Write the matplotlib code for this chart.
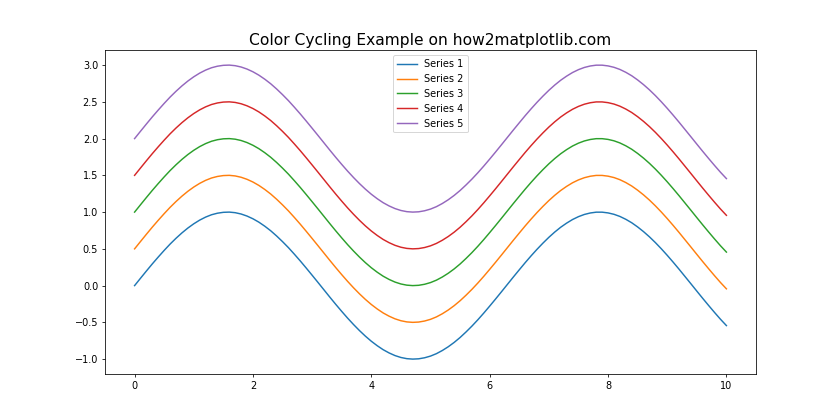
import numpy as np
import matplotlib.pyplot as plt

# x grid (0 to 10, step 0.1)
x = np.linspace(0, 10, 101)

# base wave (Series 1)
base = [0.000, 0.100, 0.199, 0.296, 0.389, 0.479, 0.565, 0.644, 0.717, 0.783,
        0.841, 0.891, 0.932, 0.964, 0.985, 0.997, 1.000, 0.992, 0.974, 0.946,
        0.909, 0.863, 0.808, 0.746, 0.675, 0.598, 0.516, 0.427, 0.335, 0.239,
        0.141, 0.042, -0.058, -0.158, -0.256, -0.351, -0.443, -0.530, -0.612, -0.688,
        -0.757, -0.818, -0.872, -0.916, -0.952, -0.978, -0.994, -1.000, -0.996, -0.982,
        -0.959, -0.926, -0.883, -0.832, -0.773, -0.706, -0.631, -0.551, -0.465, -0.374,
        -0.279, -0.182, -0.083, 0.017, 0.117, 0.215, 0.312, 0.405, 0.494, 0.578,
        0.657, 0.729, 0.794, 0.850, 0.899, 0.938, 0.968, 0.988, 0.999, 0.999,
        0.989, 0.970, 0.941, 0.902, 0.855, 0.798, 0.734, 0.663, 0.585, 0.501,
        0.412, 0.319, 0.223, 0.124, 0.025, -0.075, -0.174, -0.271, -0.366, -0.458,
        -0.544]

# vertical offset of each series
offsets = [0.0, 0.5, 1.0, 1.5, 2.0]
labels = ["Series 1", "Series 2", "Series 3", "Series 4", "Series 5"]

fig, ax = plt.subplots(figsize=(12, 6), dpi=70)
for off, lab in zip(offsets, labels):
    ax.plot(x, np.array(base) + off, label=lab)

ax.set_title("Color Cycling Example on how2matplotlib.com", fontsize=16)
ax.legend(loc="upper center")

plt.savefig("out.png")
